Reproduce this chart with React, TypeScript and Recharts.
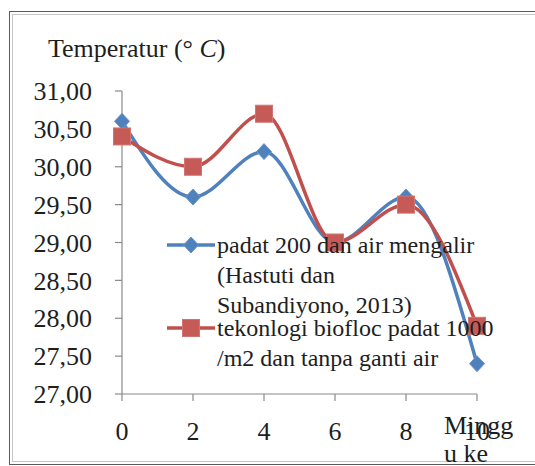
// Water temperature per week: flowing water vs biofloc, smooth lines with markers

import { LineChart, Line, XAxis, YAxis } from 'recharts'

const weeks = [0, 2, 4, 6, 8, 10]
const flowingWater = [30.6, 29.6, 30.2, 29.0, 29.6, 27.4]
const biofloc = [30.4, 30.0, 30.7, 29.0, 29.5, 27.9]
const yTicks = [27, 27.5, 28, 28.5, 29, 29.5, 30, 30.5, 31]

const flowingLabel = ['padat 200 dan air mengalir', '(Hastuti dan', 'Subandiyono, 2013)']
const bioflocLabel = ['tekonlogi biofloc padat 1000', '/m2 dan tanpa ganti air']

const BLUE = '#4F81BD'
const RED = '#C0504D'
const TEXT = '#1e1e1e'
const FONT = 'Liberation Serif, Times New Roman, serif'

const data = weeks.map((w, i) => ({ week: w, flowing: flowingWater[i], biofloc: biofloc[i] }))

const fmt = (v: number) => v.toFixed(2).replace('.', ',')

function Diamond(props: any) {
  const { cx, cy } = props
  if (cx == null || cy == null) return null
  return (
    <path
      key={`d-${props.index}`}
      d={`M${cx},${cy - 8} L${cx + 7.5},${cy} L${cx},${cy + 8} L${cx - 7.5},${cy} Z`}
      fill={BLUE}
      stroke="#6b95c9"
      strokeWidth={1}
    />
  )
}

function Square(props: any) {
  const { cx, cy } = props
  if (cx == null || cy == null) return null
  return (
    <rect
      key={`s-${props.index}`}
      x={cx - 8.5}
      y={cy - 8.5}
      width={17}
      height={17}
      fill="#c65a57"
      stroke="#d07572"
      strokeWidth={1}
    />
  )
}

function LegendRow({ top, color, marker, lines }: { top: number; color: string; marker: 'diamond' | 'square'; lines: string[] }) {
  return (
    <div style={{ position: 'absolute', left: 166, top }}>
      <svg width={52} height={30} style={{ position: 'absolute', left: 0, top: 0 }}>
        <line x1={1} x2={49} y1={15} y2={15} stroke={color} strokeWidth={3.5} />
        {marker === 'diamond' ? <Diamond cx={25} cy={15} index={0} /> : <Square cx={25} cy={15} index={0} />}
      </svg>
      <div style={{ position: 'absolute', left: 51, top: 0, fontSize: 24, lineHeight: '30px', whiteSpace: 'nowrap', color: TEXT }}>
        {lines.map((l) => (
          <div key={l}>{l}</div>
        ))}
      </div>
    </div>
  )
}

export default function App() {
  return (
    <div style={{ position: 'absolute', left: 0, top: 0, width: 535, height: 466, overflow: 'hidden', fontFamily: FONT, background: '#fff' }}>
      <div style={{ position: 'absolute', left: 9, top: 11, width: 540, height: 452, border: '1px solid #5a5a5a' }} />
      <div style={{ position: 'absolute', left: 12, top: 14, width: 540, height: 446, border: '1px solid #c4c4c4' }} />

      <LineChart width={535} height={466} data={data} margin={{ top: 91, right: 58, bottom: 42, left: 0 }} style={{ position: 'absolute', left: 0, top: 0 }}>
        <XAxis
          dataKey="week"
          type="number"
          domain={[0, 10]}
          ticks={weeks}
          interval={0}
          height={30}
          axisLine={{ stroke: '#8a8a8a', strokeWidth: 1.2 }}
          tickLine={{ stroke: '#8a8a8a', strokeWidth: 1.2 }}
          tickSize={7}
          tickMargin={21}
          tick={{ fill: TEXT, fontSize: 26, fontFamily: FONT }}
        />
        <YAxis
          type="number"
          domain={[27, 31]}
          ticks={yTicks}
          interval={0}
          width={122}
          tickFormatter={fmt}
          axisLine={{ stroke: '#8a8a8a', strokeWidth: 1.2 }}
          tickLine={{ stroke: '#8a8a8a', strokeWidth: 1.2 }}
          tickSize={7}
          tickMargin={23}
          tick={{ fill: TEXT, fontSize: 26, fontFamily: FONT }}
        />
        <Line type="monotone" dataKey="flowing" stroke={BLUE} strokeWidth={3.5} dot={Diamond} activeDot={false} isAnimationActive={false} />
        <Line type="monotone" dataKey="biofloc" stroke={RED} strokeWidth={3.5} dot={Square} activeDot={false} isAnimationActive={false} />
      </LineChart>

      <div style={{ position: 'absolute', left: 48, top: 34, fontSize: 26, lineHeight: '30px', color: TEXT, whiteSpace: 'nowrap' }}>
        Temperatur (° <i>C</i>)
      </div>

      <LegendRow top={230} color={BLUE} marker="diamond" lines={flowingLabel} />
      <LegendRow top={313} color={RED} marker="square" lines={bioflocLabel} />

      <div style={{ position: 'absolute', left: 444, top: 411, fontSize: 26, lineHeight: '30px', color: TEXT, whiteSpace: 'nowrap' }}>
        <div>Mingg</div>
        <div style={{ marginTop: -2 }}>u ke</div>
      </div>
    </div>
  )
}
